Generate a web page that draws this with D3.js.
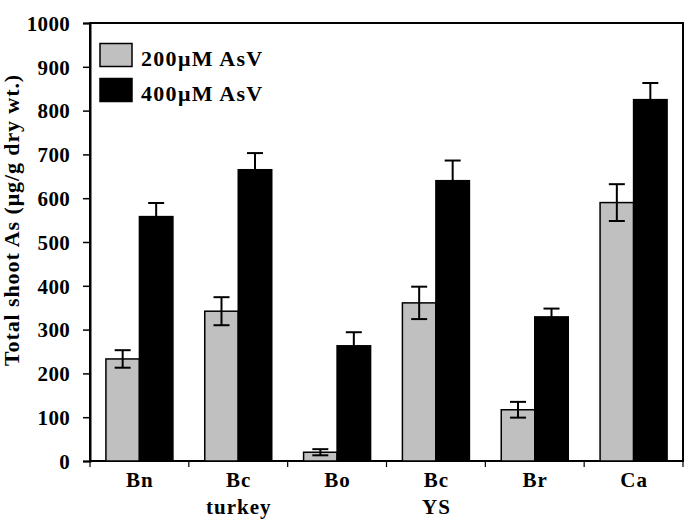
<!DOCTYPE html>
<html><head><meta charset="utf-8">
<script src="https://cdn.jsdelivr.net/npm/d3@7"></script>
<style>body{margin:0;background:#fff}svg{display:block}text{font-family:"Liberation Serif","Times New Roman",serif;font-weight:bold}</style>
</head><body><svg id="c" width="685" height="521"></svg>
<script>
const categories = [["Bn"],["Bc","turkey"],["Bo"],["Bc","YS"],["Br"],["Ca"]];
const seriesNames = ["200\u03bcM AsV","400\u03bcM AsV"];
const values200 = [233,342,20,361,117,590];
const errors200 = [20,32,7,37,18,42];
const values400 = [558,665,263,640,329,825];
const errors400 = [31,38,31,46,19,38];
const yTicks = [0,100,200,300,400,500,600,700,800,900,1000];
const yTitle = "Total shoot As (\u03bcg/g dry wt.)";
const colors = ["#c0c0c0","#000000"];

const svg = d3.select("#c");
const m = {l:90, r:683, t:23, b:461};
const idx = categories.map((d,i)=>i);
const x0 = d3.scaleBand().domain(idx).range([m.l, m.r]).padding(0);
const x1 = d3.scaleBand().domain([0,1]).range([0, x0.bandwidth()]).paddingInner(0).paddingOuter(0.475);
const y = d3.scaleLinear().domain([0,1000]).range([m.b, m.t]);

// frame
svg.append("rect").attr("x",m.l).attr("y",m.t).attr("width",m.r-m.l).attr("height",m.b-m.t)
  .attr("fill","none").attr("stroke","#000").attr("stroke-width",2);

// y axis
const ya = svg.append("g").attr("transform",`translate(${m.l},0)`)
  .call(d3.axisLeft(y).tickValues(yTicks).tickSize(7).tickPadding(13).tickFormat(d3.format("d")));
ya.select(".domain").attr("stroke-width",2);
ya.selectAll(".tick line").attr("stroke-width",1.5);
ya.selectAll("text").attr("font-size",21).attr("letter-spacing","0.3px").attr("fill","#000").attr("dy","0.35em");

// x ticks at boundaries
const bounds = d3.range(categories.length+1).map(i=> m.l + i*x0.step());
svg.append("g").selectAll("line").data(bounds).join("line")
  .attr("x1",d=>d).attr("x2",d=>d).attr("y1",m.b).attr("y2",m.b+6)
  .attr("stroke","#000").attr("stroke-width",1.2);

// x labels
const xl = svg.append("g").selectAll("text").data(categories).join("text")
  .attr("x",(d,i)=>x0(i)+x0.bandwidth()/2+0.5).attr("y",487)
  .attr("text-anchor","middle").attr("font-size",21).attr("letter-spacing","1px").attr("fill","#000");
xl.each(function(d){
  const t = d3.select(this);
  d.forEach((s,j)=>t.append("tspan").attr("x",t.attr("x")).attr("dy", j===0?0:26.5).text(s));
});

// bars
const data = idx.map(i=>[
  {s:0,v:values200[i],e:errors200[i],i},
  {s:1,v:values400[i],e:errors400[i],i}]);
const g = svg.append("g").selectAll("g").data(data).join("g")
  .attr("transform",(d,i)=>`translate(${x0(i)},0)`);
g.selectAll("rect").data(d=>d).join("rect")
  .attr("x",d=>x1(d.s)).attr("width",x1.bandwidth())
  .attr("y",d=>y(d.v)).attr("height",d=>y(0)-y(d.v))
  .attr("fill",d=>colors[d.s]).attr("stroke","#000").attr("stroke-width",1.5);
// error bars
const cap = 8;
const eb = g.selectAll("g.eb").data(d=>d).join("g").attr("class","eb");
eb.append("line").attr("x1",d=>x1(d.s)+x1.bandwidth()/2).attr("x2",d=>x1(d.s)+x1.bandwidth()/2)
  .attr("y1",d=>y(d.v+d.e)).attr("y2",d=>y(d.v-d.e)).attr("stroke","#000").attr("stroke-width",2);
eb.append("line").attr("x1",d=>x1(d.s)+x1.bandwidth()/2-cap).attr("x2",d=>x1(d.s)+x1.bandwidth()/2+cap)
  .attr("y1",d=>y(d.v+d.e)).attr("y2",d=>y(d.v+d.e)).attr("stroke","#000").attr("stroke-width",2);
eb.filter(d=>d.s===0).append("line").attr("x1",d=>x1(d.s)+x1.bandwidth()/2-cap).attr("x2",d=>x1(d.s)+x1.bandwidth()/2+cap)
  .attr("y1",d=>y(d.v-d.e)).attr("y2",d=>y(d.v-d.e)).attr("stroke","#000").attr("stroke-width",2);

// legend
const lg = svg.append("g").selectAll("g").data(seriesNames).join("g")
  .attr("transform",(d,i)=>`translate(100,${43.5+i*35})`);
lg.append("rect").attr("width",32).attr("height",23).attr("fill",(d,i)=>colors[i]).attr("stroke","#000").attr("stroke-width",1.5);
lg.append("text").attr("x",41).attr("y",22.5).attr("font-size",22).attr("letter-spacing","1.3px").attr("fill","#000").text(d=>d);

// y title
svg.append("text").attr("transform","translate(19,220) rotate(-90)")
  .attr("text-anchor","middle").attr("font-size",22).attr("letter-spacing","0.9px").attr("fill","#000").text(yTitle);
</script></body></html>
